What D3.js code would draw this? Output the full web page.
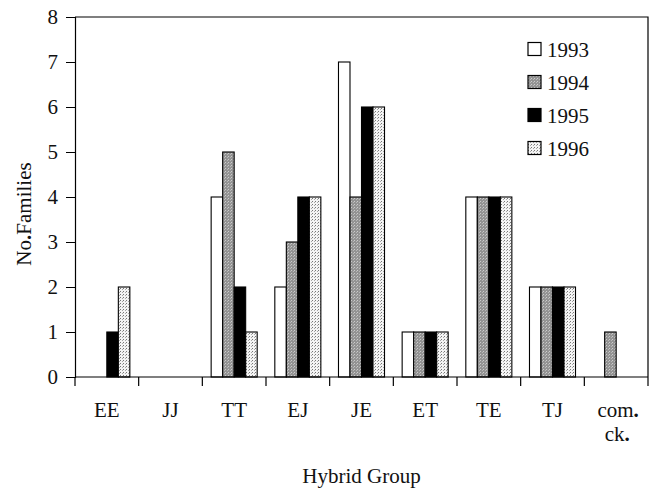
<!DOCTYPE html>
<html lang="en">
<head>
    <meta charset="UTF-8">
    <title>No. Families by Hybrid Group</title>
    <script src="https://d3js.org/d3.v7.min.js"></script>
    <style>
        body { margin: 0; background: #fff; }
        svg text { font-family: "Liberation Serif", "DejaVu Serif", serif; fill: #111; }
        .dot { font-weight: bold; }
    </style>
</head>
<body>
    <div id="chart"></div>
    <script>
        // Data
        const groups = ["EE", "JJ", "TT", "EJ", "JE", "ET", "TE", "TJ", "com.ck."];
        const years = ["1993", "1994", "1995", "1996"];
        const v1993 = [0, 0, 4, 2, 7, 1, 4, 2, 0];
        const v1994 = [0, 0, 5, 3, 4, 1, 4, 2, 1];
        const v1995 = [1, 0, 2, 4, 6, 1, 4, 2, 0];
        const v1996 = [2, 0, 1, 4, 6, 1, 4, 2, 0];
        const yTicks = [0, 1, 2, 3, 4, 5, 6, 7, 8];

        const series = [v1993, v1994, v1995, v1996];
        const rows = [];
        groups.forEach((g, i) => {
            years.forEach((yr, j) => rows.push({ group: g, year: yr, value: series[j][i] }));
        });

        const width = 650, height = 488;
        const margin = { left: 75, right: 2, top: 17, bottom: 111 };

        const svg = d3.select("#chart").append("svg")
            .attr("width", width)
            .attr("height", height);

        // patterns for the shaded bars
        const defs = svg.append("defs");
        const p94 = defs.append("pattern")
            .attr("id", "pat1994").attr("patternUnits", "userSpaceOnUse")
            .attr("width", 3).attr("height", 3);
        p94.append("rect").attr("width", 3).attr("height", 3).attr("fill", "#939393");
        p94.append("rect").attr("x", 0).attr("y", 0).attr("width", 1).attr("height", 1).attr("fill", "#cccccc");
        p94.append("rect").attr("x", 2).attr("y", 1).attr("width", 1).attr("height", 1).attr("fill", "#b8b8b8");

        const p96 = defs.append("pattern")
            .attr("id", "pat1996").attr("patternUnits", "userSpaceOnUse")
            .attr("width", 3).attr("height", 3);
        p96.append("rect").attr("width", 3).attr("height", 3).attr("fill", "#f4f4f4");
        p96.append("rect").attr("x", 0).attr("y", 0).attr("width", 1).attr("height", 1).attr("fill", "#777777");
        p96.append("rect").attr("x", 2).attr("y", 1).attr("width", 1).attr("height", 1).attr("fill", "#a8a8a8");

        const fills = {
            "1993": "#ffffff",
            "1994": "url(#pat1994)",
            "1995": "#000000",
            "1996": "url(#pat1996)"
        };

        const x0 = d3.scaleBand()
            .domain(groups)
            .range([margin.left, width - margin.right])
            .paddingInner(0.277)
            .paddingOuter(0.1385);

        const x1 = d3.scaleBand()
            .domain(years)
            .range([0, x0.bandwidth()]);

        const y = d3.scaleLinear()
            .domain([0, 8])
            .range([height - margin.bottom, margin.top]);

        // bars
        svg.append("g")
            .selectAll("rect")
            .data(rows.filter(d => d.value > 0))
            .join("rect")
            .attr("x", d => x0(d.group) + x1(d.year))
            .attr("y", d => y(d.value))
            .attr("width", x1.bandwidth())
            .attr("height", d => y(0) - y(d.value))
            .attr("fill", d => fills[d.year])
            .attr("stroke", "#000")
            .attr("stroke-width", 1.1);

        // frame (top and right)
        const x0r = x0.range();
        svg.append("path")
            .attr("d", `M${x0r[0]},${y(8)}H${x0r[1]}V${y(0)}`)
            .attr("fill", "none")
            .attr("stroke", "#000")
            .attr("stroke-width", 1.2);

        // y axis
        const yAxis = svg.append("g")
            .attr("transform", `translate(${margin.left},0)`)
            .call(d3.axisLeft(y).tickValues(yTicks).tickSize(9).tickPadding(8).tickFormat(d3.format("d")));
        yAxis.select(".domain").attr("stroke-width", 1.2);
        yAxis.selectAll("text").attr("font-size", 21);

        // x axis with ticks at group boundaries
        const step = x0.step();
        const bounds = groups.map(g => x0(g) - (step - x0.bandwidth()) / 2).concat([x0r[1]]);
        const xg = svg.append("g");
        xg.append("line")
            .attr("x1", x0r[0]).attr("x2", x0r[1])
            .attr("y1", y(0)).attr("y2", y(0))
            .attr("stroke", "#000").attr("stroke-width", 1.2);
        xg.selectAll(".tick")
            .data(bounds)
            .join("line")
            .attr("x1", d => d).attr("x2", d => d)
            .attr("y1", y(0)).attr("y2", y(0) + 9)
            .attr("stroke", "#000").attr("stroke-width", 1.2);

        xg.selectAll(".lab")
            .data(groups)
            .join("text")
            .attr("text-anchor", "middle")
            .attr("font-size", 21)
            .each(function(d) {
                const t = d3.select(this);
                const cx = x0(d) + x0.bandwidth() / 2;
                if (d === "com.ck.") {
                    t.append("tspan").attr("x", cx + 2).attr("y", 417).text("com");
                    t.append("tspan").attr("class", "dot").text(".");
                    t.append("tspan").attr("x", cx + 1).attr("y", 441).text("ck");
                    t.append("tspan").attr("class", "dot").text(".");
                } else {
                    t.attr("x", cx).attr("y", 417).text(d);
                }
            });

        // axis titles
        svg.append("text")
            .attr("x", (x0r[0] + x0r[1]) / 2)
            .attr("y", 483)
            .attr("text-anchor", "middle")
            .attr("font-size", 21)
            .text("Hybrid Group");

        const yTitle = svg.append("text")
            .attr("transform", `translate(31,214) rotate(-90)`)
            .attr("text-anchor", "middle")
            .attr("font-size", 21);
        yTitle.append("tspan").text("No");
        yTitle.append("tspan").attr("class", "dot").text(".");
        yTitle.append("tspan").text("Families");

        // legend
        const legend = svg.append("g");
        years.forEach((yr, i) => {
            const cy = 49 + i * 33;
            legend.append("rect")
                .attr("x", 528).attr("y", cy - 6.5)
                .attr("width", 13).attr("height", 13)
                .attr("fill", fills[yr])
                .attr("stroke", "#000").attr("stroke-width", 1.2);
            legend.append("text")
                .attr("x", 547).attr("y", cy + 7.5)
                .attr("font-size", 21)
                .text(yr);
        });
    </script>
</body>
</html>
